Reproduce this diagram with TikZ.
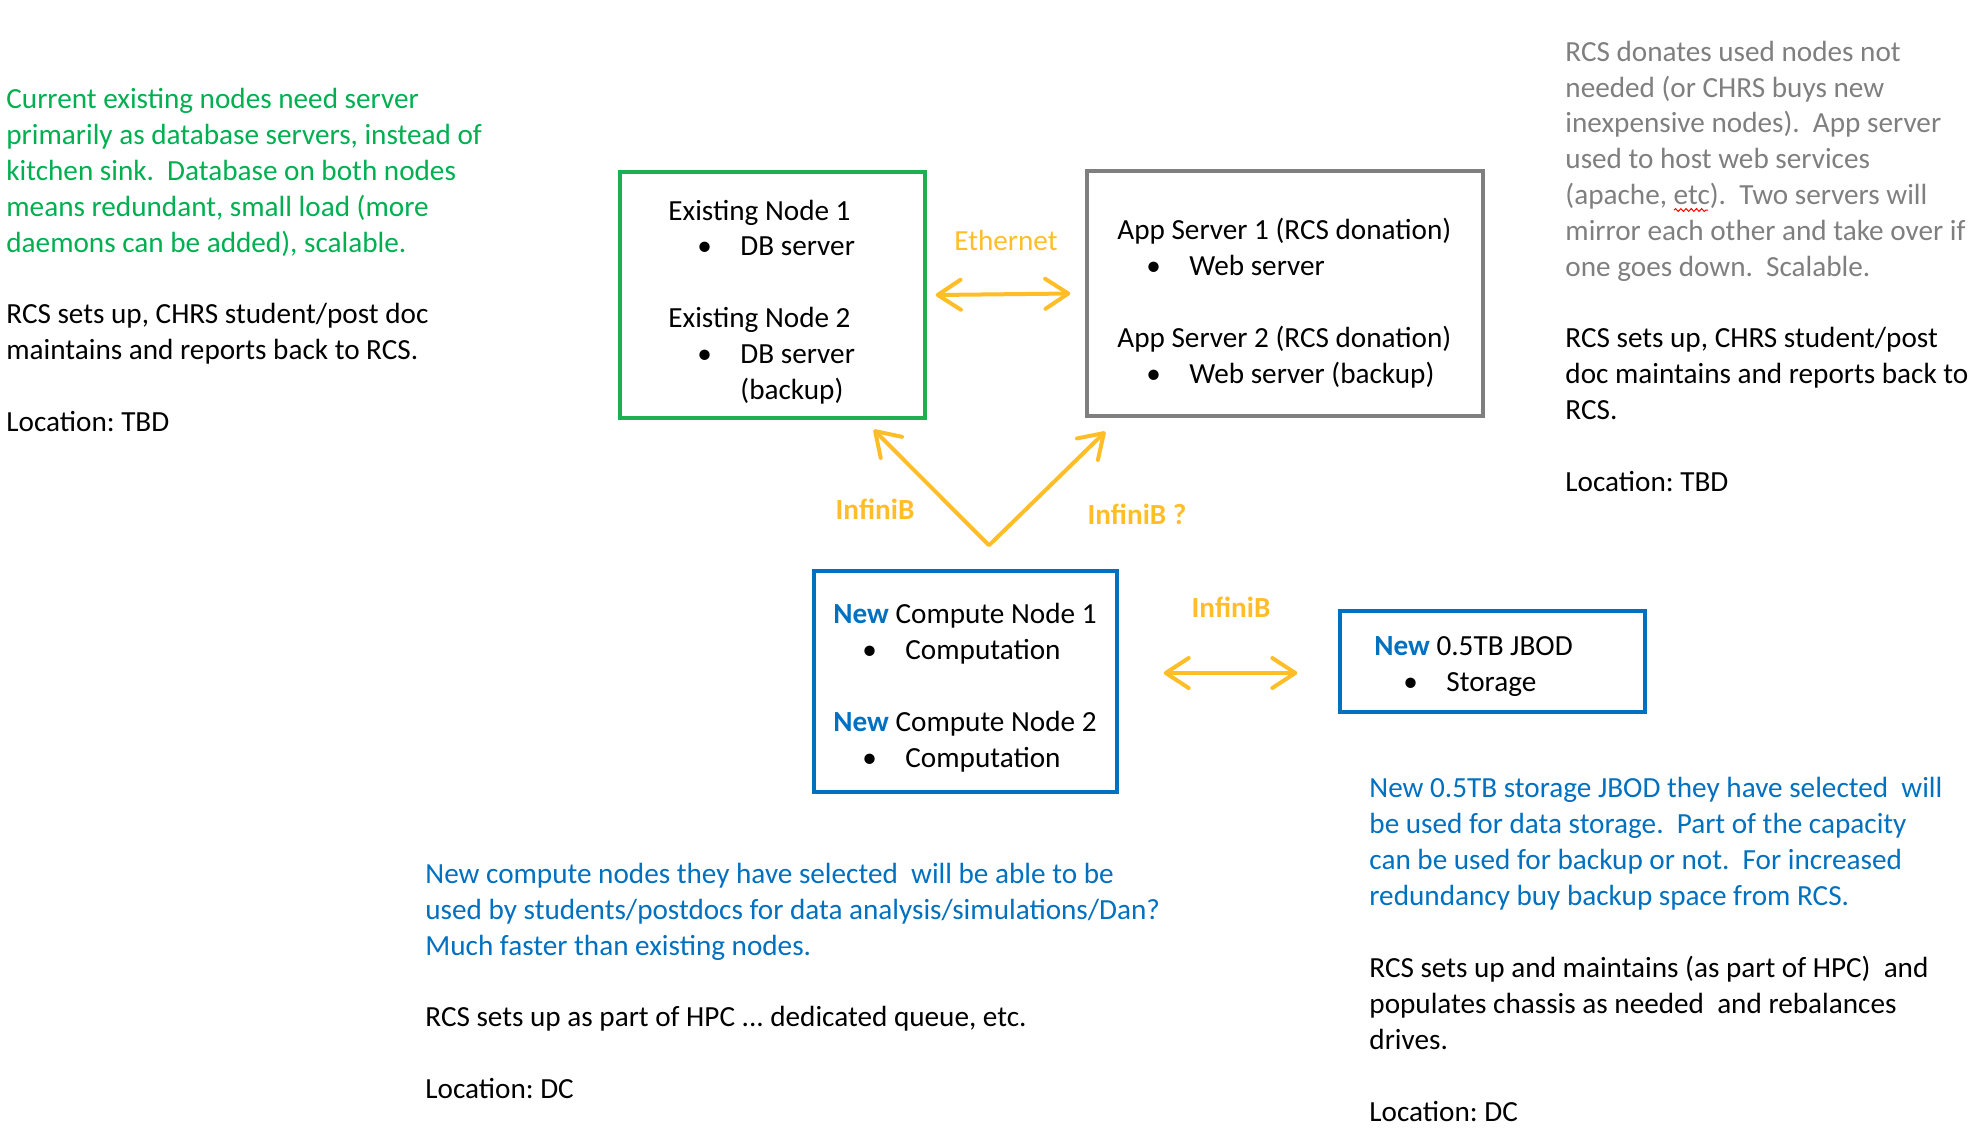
\documentclass[tikz,border=0pt]{standalone}
\usepackage{fontspec}
\setmainfont{Carlito}
\usetikzlibrary{arrows.meta,decorations.pathmorphing}
\definecolor{cgreen}{RGB}{0,176,80}
\definecolor{cboxgreen}{RGB}{30,176,80}
\definecolor{cblue}{RGB}{0,112,192}
\definecolor{cgray}{RGB}{127,127,127}
\definecolor{corange}{RGB}{255,190,40}
\newcommand\bul[1]{\hspace*{14.5pt}\makebox[21.5pt][l]{•}#1}
\newcommand\newb{{\bfseries\color{cblue}New}}
\begin{document}
\begin{tikzpicture}[x=0.5pt,y=-0.5pt,
  every node/.style={font=\fontsize{14.6}{17.9}\selectfont\frenchspacing, inner sep=0pt},
  para/.style={anchor=base west, align=left},
  box/.style={draw, line width=1.7pt, inner sep=0pt},
  arr/.style={draw=corange, line width=2pt, line cap=round, line join=round,
    {Straight Barb[length=11.5pt,width=15pt,round]}-{Straight Barb[length=11.5pt,width=15pt,round]}},
  lbl/.style={text=corange, font=\fontsize{14.6}{17.9}\selectfont\bfseries},
  lbln/.style={text=corange},
]
\useasboundingbox (0,0) rectangle (1984,1136);

% boxes
\node[box, draw=cboxgreen, minimum width=152.5pt, minimum height=123pt] (exist) at (772.5,295) {};
\node[box, draw=cgray, minimum width=198pt, minimum height=122.5pt] (app) at (1285,293.5) {};
\node[box, draw=cblue, minimum width=151.5pt, minimum height=110.5pt] (comp) at (965.5,681.5) {};
\node[box, draw=cblue, minimum width=152.5pt, minimum height=50.5pt] (jbod) at (1492.5,661.5) {};

% box contents (anchor = baseline of last line)
\node[para] (existT) at (668,399) {Existing Node 1\\\bul{DB server}\\[17.9pt]Existing Node 2\\\bul{DB server}\\\hspace*{36pt}(backup)};
\node[para] (appT) at (1117,383) {App Server 1 (RCS donation)\\\bul{Web server}\\[17.9pt]App Server 2 (RCS donation)\\\bul{Web server (backup)}};
\node[para] (compT) at (833,767) {\newb{} Compute Node 1\\\bul{Computation}\\[17.9pt]\newb{} Compute Node 2\\\bul{Computation}};
\node[para] (jbodT) at (1374,691) {\newb{} 0.5TB JBOD\\\bul{Storage}};

% connectors
\draw[arr] ([xshift=4.5pt]exist.east) -- ([xshift=-7.5pt]app.west);
\coordinate (ibL) at ([xshift=-26.5pt,yshift=-5pt]exist.south east);
\coordinate (ibR) at ([xshift=10pt,yshift=-7pt]app.south west);
\coordinate (vtx) at ([xshift=11.75pt,yshift=12pt]comp.north);
\draw[arr] (ibL) -- (vtx) -- (ibR);
\draw[arr] ([xshift=22.5pt,yshift=4.25pt]comp.east) -- ([xshift=-20.5pt,yshift=-5.75pt]jbod.west);

% connector labels
\node[lbln] (eth) at (1006,240) {Ethernet};
\node[lbl] (ib1) at (875,509) {InfiniB};
\node[lbl] (ib2) at (1137,514) {InfiniB ?};
\node[lbl] (ib3) at (1231,607) {InfiniB};

% notes (anchor = baseline of last line)
\node[para, text=cgreen] (noteL) at (6,252) {Current existing nodes need server\\primarily as database servers, instead of\\kitchen sink.\ \ Database on both nodes\\means redundant, small load (more\\daemons can be added), scalable.};
\node[para] (noteL2) at (6,431) {RCS sets up, CHRS student/post doc\\maintains and reports back to RCS.\\[17.9pt]Location: TBD};

\node[para, text=cgray] (noteR) at (1565,276) {RCS donates used nodes not\\needed (or CHRS buys new\\inexpensive nodes).\ \ App server\\used to host web services\\(apache, etc).\ \ Two servers will\\mirror each other and take over if\\one goes down.\ \ Scalable.};
\draw[red, line width=0.5pt, decorate, decoration={snake, segment length=2.6pt, amplitude=0.7pt}] (1674,210) -- (1708,210);
\node[para] (noteR2) at (1565,491) {RCS sets up, CHRS student/post\\doc maintains and reports back to\\RCS.\\[17.9pt]Location: TBD};

\node[para, text=cblue] (noteM) at (425,955) {New compute nodes they have selected\ \ will be able to be\\used by students/postdocs for data analysis/simulations/Dan?\\Much faster than existing nodes.};
\node[para] (noteM2) at (425,1098) {RCS sets up as part of HPC ... dedicated queue, etc.\\[17.9pt]Location: DC};

\node[para, text=cblue] (noteB) at (1369,905) {New 0.5TB storage JBOD they have selected\ \ will\\be used for data storage.\ \ Part of the capacity\\can be used for backup or not.\ \ For increased\\redundancy buy backup space from RCS.};
\node[para] (noteB2) at (1369,1121) {RCS sets up and maintains (as part of HPC)\ \ and\\populates chassis as needed\ \ and rebalances\\drives.\\[17.9pt]Location: DC};
\end{tikzpicture}
\end{document}
